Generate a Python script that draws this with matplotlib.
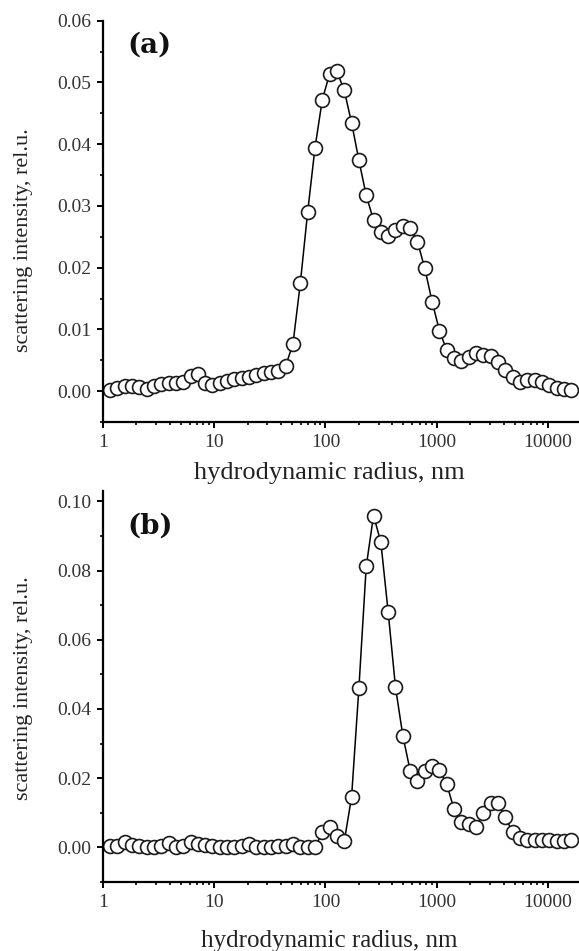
import matplotlib
matplotlib.use("Agg")
import matplotlib.pyplot as plt
from matplotlib.ticker import MultipleLocator, FixedLocator, LogLocator, NullFormatter, FormatStrFormatter

# hydrodynamic radius grid, nm (same for both samples)
radius_nm = [1.156, 1.345, 1.565, 1.822, 2.119, 2.466, 2.869, 3.339, 3.885, 4.521,
             5.260, 6.121, 7.122, 8.287, 9.643, 11.22, 13.06, 15.19, 17.68, 20.57,
             23.93, 27.85, 32.40, 37.71, 43.88, 51.05, 59.40, 69.12, 80.43, 93.58,
             108.9, 126.7, 147.4, 171.5, 199.6, 232.3, 270.3, 314.5, 365.9, 425.8,
             495.5, 576.5, 670.8, 780.5, 908.2, 1057, 1229, 1431, 1665, 1937,
             2254, 2623, 3052, 3551, 4132, 4808, 5595, 6510, 7575, 8815,
             10260, 11930, 13890, 16160]

# panel (a)
intensity_a = [0.0002, 0.0005, 0.0008, 0.0009, 0.0006, 0.0004, 0.0009, 0.0011, 0.0013, 0.0013,
               0.0014, 0.0025, 0.0027, 0.0013, 0.0010, 0.0013, 0.0017, 0.0020, 0.0021, 0.0023,
               0.0026, 0.0029, 0.0031, 0.0033, 0.0041, 0.0077, 0.0175, 0.0290, 0.0394, 0.0472,
               0.0514, 0.0518, 0.0487, 0.0435, 0.0374, 0.0317, 0.0277, 0.0257, 0.0251, 0.0261,
               0.0268, 0.0265, 0.0242, 0.0199, 0.0145, 0.0098, 0.0066, 0.0054, 0.0048, 0.0055,
               0.0061, 0.0059, 0.0057, 0.0047, 0.0034, 0.0023, 0.0015, 0.0018, 0.0018, 0.0014,
               0.0010, 0.0005, 0.0003, 0.0002]

# panel (b)
intensity_b = [0.0003, 0.0004, 0.0015, 0.0006, 0.0003, 0.0002, 0.0002, 0.0003, 0.0013, 0.0000,
               0.0003, 0.0015, 0.0010, 0.0006, 0.0003, 0.0002, 0.0002, 0.0002, 0.0004, 0.0011,
               0.0002, 0.0002, 0.0002, 0.0004, 0.0004, 0.0009, 0.0002, 0.0000, 0.0000, 0.0043,
               0.0059, 0.0032, 0.0017, 0.0145, 0.0460, 0.0812, 0.0959, 0.0882, 0.0680, 0.0463,
               0.0323, 0.0222, 0.0191, 0.0220, 0.0236, 0.0223, 0.0183, 0.0110, 0.0074, 0.0067,
               0.0058, 0.0100, 0.0128, 0.0127, 0.0088, 0.0043, 0.0027, 0.0020, 0.0020, 0.0020,
               0.0020, 0.0017, 0.0017, 0.0020]

x_ticks = [1, 10, 100, 1000, 10000]
x_ticklabels = ["1", "10", "100", "1000", "10000"]

plt.rcParams["font.family"] = "Liberation Serif"

fig = plt.figure(figsize=(5.79, 9.51), dpi=100)
ax_a = fig.add_axes([0.1779, 0.5563, 0.8221, 0.4219])
ax_b = fig.add_axes([0.1779, 0.0726, 0.8221, 0.4111])

panels = [
    (ax_a, intensity_a, "(a)", (-0.005, 0.06), 0.01, 0.005, 0.454, -0.10, 19),
    (ax_b, intensity_b, "(b)", (-0.01, 0.103), 0.02, 0.01, 0.496, -0.123, 18),
]

for ax, vals, tag, ylim, major, minor, ylab_y, xlab_y, xlab_fs in panels:
    ax.plot(radius_nm, vals, color="black", lw=1.1, marker="o", ms=10,
            mfc="white", mec="#1a1a1a", mew=1.2)
    ax.set_xscale("log")
    ax.set_xlim(1, 19000)
    ax.set_ylim(*ylim)
    ax.xaxis.set_major_locator(FixedLocator(x_ticks))
    ax.set_xticklabels(x_ticklabels)
    ax.xaxis.set_minor_locator(LogLocator(base=10, subs=range(2, 10)))
    ax.xaxis.set_minor_formatter(NullFormatter())
    ax.yaxis.set_major_locator(MultipleLocator(major))
    ax.yaxis.set_minor_locator(MultipleLocator(minor))
    ax.yaxis.set_major_formatter(FormatStrFormatter("%.2f"))

    for side in ["top", "right"]:
        ax.spines[side].set_visible(False)
    for side in ["left", "bottom"]:
        ax.spines[side].set_linewidth(1.6)

    ax.tick_params(which="major", direction="out", length=4.5, width=1.4,
                   labelsize=14, labelcolor="#333333", pad=4)
    ax.tick_params(which="minor", direction="out", length=2.5, width=1.2)

    ax.set_ylabel("scattering intensity, rel.u.", fontsize=16, color="#222222")
    ax.yaxis.set_label_coords(-0.147, ylab_y)
    ax.set_xlabel("hydrodynamic radius, nm", fontsize=xlab_fs, color="#222222")
    ax.xaxis.set_label_coords(0.476, xlab_y)

    ax.text(0.051, 0.94 if tag == "(a)" else 0.91, tag, transform=ax.transAxes,
            fontsize=20, fontweight="bold", family="DejaVu Serif",
            ha="left", va="center", color="#111111")

fig.savefig("out.png", dpi=100)
